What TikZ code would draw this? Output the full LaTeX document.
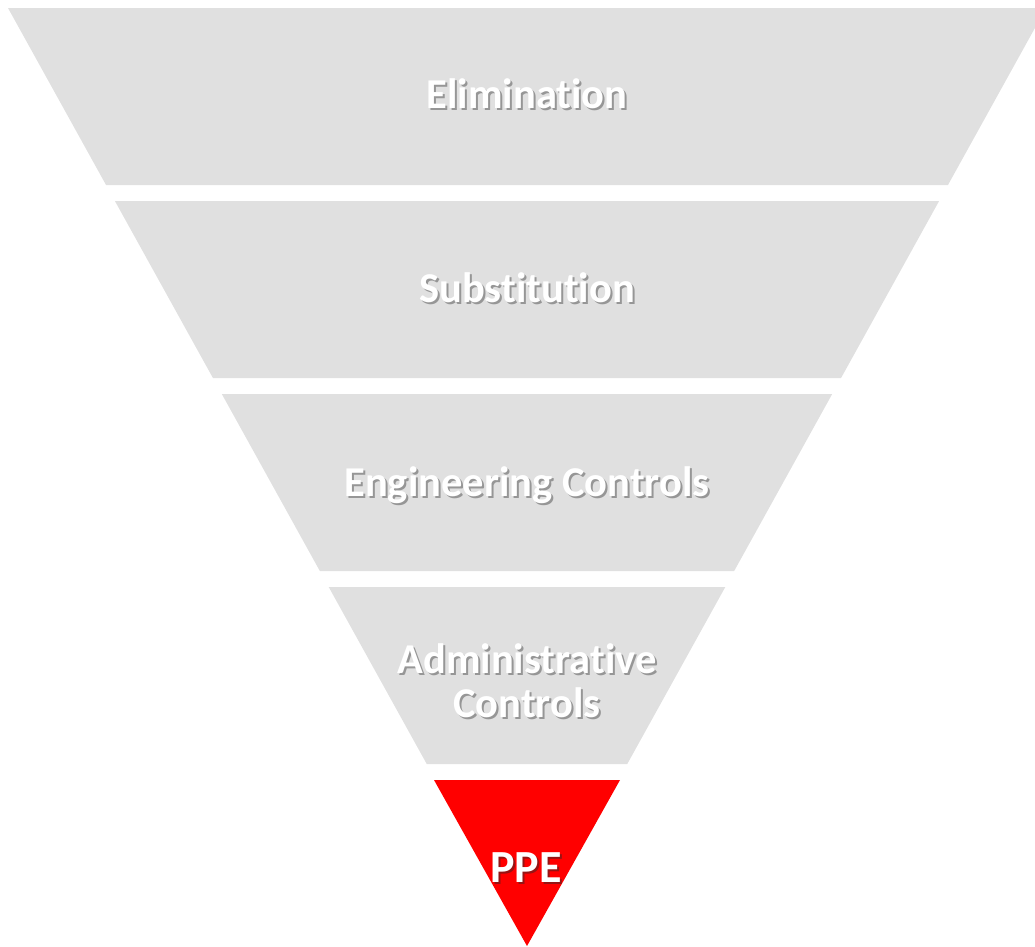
\documentclass[tikz,border=0pt]{standalone}
\usepackage{fontspec}
\setmainfont{Carlito}[Ligatures=NoCommon]
\usetikzlibrary{positioning}
\definecolor{bandFill}{RGB}{224,224,224}
\definecolor{ppeFill}{RGB}{255,0,0}
\definecolor{shade}{RGB}{150,150,150}
\definecolor{ppeShade}{RGB}{150,20,20}
\tikzset{
  band/.style={fill=bandFill, draw=none},
  ppebox/.style={fill=ppeFill, draw=none},
  level/.style={
    text=white,
    anchor=base,
    align=center,
    inner sep=0pt,
    font=\bfseries\fontsize{42.5}{44}\selectfont
  },
  ppelevel/.style={level, font=\bfseries\fontsize{46}{50}\selectfont}
}
% white word with a drop shadow set just behind it
\newcommand{\Dropped}[2][shade]{%
  \leavevmode\rlap{\hspace{2pt}\raisebox{-2.5pt}{\textcolor{#1}{#2}}}#2}

\begin{document}
\begin{tikzpicture}[x=1pt,y=-1pt]
  \useasboundingbox (0,0) rectangle (1035,946);
  \clip (0,0) rectangle (1035,946);

  % grey bands, narrowing towards the apex
  \foreach \ytop/\ybot in {8/185,201/378,394/571,587/764}{
    \pgfmathsetmacro{\wtop}{0.5539*(945-\ytop)}
    \pgfmathsetmacro{\wbot}{0.5539*(945-\ybot)}
    \fill[band] (527-\wtop,\ytop) -- (527+\wtop,\ytop)
      -- (527+\wbot,\ybot) -- (527-\wbot,\ybot) -- cycle;
  }
  % red tip
  \fill[ppebox] (434,780) -- (620,780) -- (527,946) -- cycle;

  \node[level] (elimination) at (527,108) {\Dropped{Elimination}};
  \node[level] (substitution) at (527,302) {\Dropped{Substitution}};
  \node[level] (engineering) at (527,496) {\Dropped{Engineering Controls}};
  \node[level] (administrative) at (527,717) {\Dropped{Administrative}\\\Dropped{Controls}};
  \node[ppelevel] (ppe) at (526,882) {\Dropped[ppeShade]{PPE}};
\end{tikzpicture}
\end{document}
